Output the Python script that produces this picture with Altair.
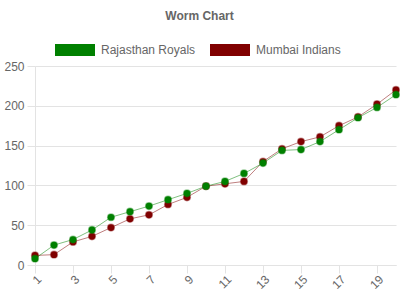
import altair as alt
import pandas as pd

overs = list(range(1, 21))
rajasthan = [8, 25, 32, 44, 60, 67, 74, 82, 90, 99, 105, 115, 128, 144, 145, 155, 170, 185, 198, 214]
mumbai = [12, 13, 29, 36, 47, 58, 63, 76, 85, 99, 102, 105, 130, 146, 155, 161, 175, 186, 202, 220]
series = ["Rajasthan Royals", "Mumbai Indians"]
colors = ["#008000", "#800000"]
x_ticks = [1, 3, 5, 7, 9, 11, 13, 15, 17, 19]
y_ticks = [0, 50, 100, 150, 200, 250]

rows = []
for o, v in zip(overs, mumbai):
    rows.append({"over": o, "runs": v, "team": series[1]})
for o, v in zip(overs, rajasthan):
    rows.append({"over": o, "runs": v, "team": series[0]})
df = pd.DataFrame(rows)

FONT = "Liberation Sans"
GRID = "#e3e3e3"

x_enc = alt.X("over:Q", scale=alt.Scale(domain=[1, 20], nice=False, zero=False),
              axis=alt.Axis(values=x_ticks, title=None, grid=False, labelAngle=-45,
                            labelAlign="right", labelBaseline="middle", labelPadding=4,
                            labelOffset=4,
                            tickSize=8, domainColor=GRID, tickColor=GRID, labelFont=FONT,
                            labelFontSize=12, labelColor="#666"))
y_enc = alt.Y("runs:Q", scale=alt.Scale(domain=[0, 250], nice=False),
              axis=alt.Axis(values=y_ticks, title=None, grid=True, gridColor=GRID,
                            tickSize=8, labelPadding=3, domainColor=GRID, tickColor=GRID,
                            labelFont=FONT, labelFontSize=12, labelColor="#666"))
color_scale = alt.Scale(domain=series, range=colors)

layers = []
for team in [series[1], series[0]]:
    col = colors[series.index(team)]
    base = alt.Chart(df).transform_filter(alt.datum.team == team)
    line = base.mark_line(strokeWidth=1, color=col, opacity=0.5).encode(x=x_enc, y=y_enc)
    pts = base.mark_point(filled=True, size=45, opacity=1, stroke=col, strokeOpacity=0.4,
                          strokeWidth=1.5).encode(
        x=x_enc, y=y_enc,
        color=alt.Color("team:N", scale=color_scale,
                        legend=alt.Legend(title=None, orient="none", direction="horizontal",
                                          legendX=20, legendY=-36,
                                          symbolType="M-1,-0.3L1,-0.3L1,0.3L-1,0.3Z",
                                          symbolSize=1600, symbolStrokeWidth=0,
                                          labelFont=FONT, labelFontSize=12, labelColor="#666",
                                          labelOffset=6, columnPadding=14)),
    )
    layers += [line, pts]

chart = alt.layer(*layers).properties(
    width=361, height=199, autosize="none",
    padding={"left": 35, "top": 66, "right": 4, "bottom": 35},
    title=alt.TitleParams("Worm Chart", font=FONT, fontSize=12, fontWeight="bold",
                          color="#666", anchor="middle", dx=-16, offset=7),
).configure_view(stroke=None)

chart.save("out.html", embed_options={"renderer": "svg", "actions": False})
